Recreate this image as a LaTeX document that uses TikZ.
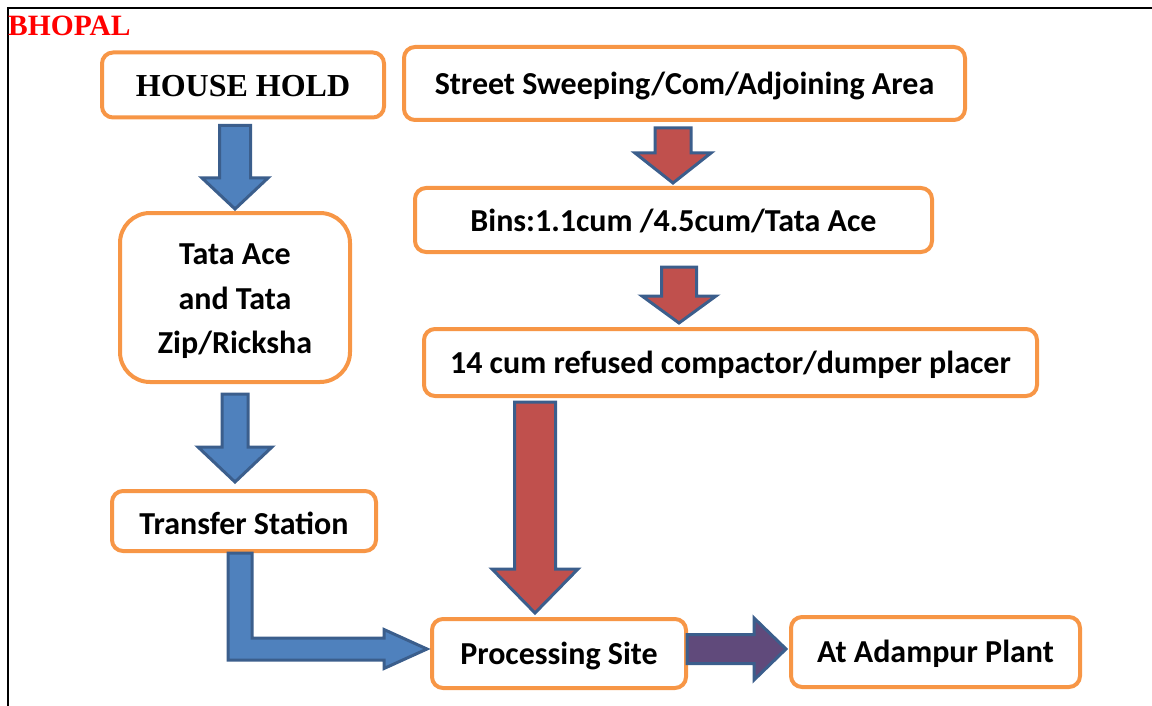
\documentclass[tikz,border=0pt]{standalone}
\usepackage{fontspec}
\setmainfont{Carlito}
\newfontfamily\timesf{Liberation Serif}
\usetikzlibrary{calc}
\definecolor{boxor}{HTML}{F79646}
\definecolor{arrline}{HTML}{3B5E8C}
\definecolor{bluefill}{HTML}{4F81BD}
\definecolor{redfill}{HTML}{C0504D}
\definecolor{purfill}{HTML}{604A7B}
\newcommand\bl[2][10.6pt]{\raisebox{-#1}[0pt][0pt]{#2}}
\newcommand\vblock[6]{%
  \draw[#6] let \p1=(#1), \p2=(#2) in
    (\x1-#3,\y1) -- (\x1+#3,\y1) -- (\x1+#3,\y2+#5) -- (\x1+#4,\y2+#5) -- (\x1,\y2)
    -- (\x1-#4,\y2+#5) -- (\x1-#3,\y2+#5) -- cycle;}
\newcommand\hblock[6]{%
  \draw[#6] let \p1=(#1), \p2=(#2) in
    (\x1,\y1+#3) -- (\x2-#5,\y1+#3) -- (\x2-#5,\y1+#4) -- (\x2,\y1)
    -- (\x2-#5,\y1-#4) -- (\x2-#5,\y1-#3) -- (\x1,\y1-#3) -- cycle;}
\tikzset{
  flowbox/.style={draw=boxor, line width=4pt, rounded corners=11pt, fill=white,
    font=\fontsize{32}{44.5}\selectfont\bfseries, align=center, inner sep=0pt},
  bluearr/.style={draw=arrline, line width=3pt, fill=bluefill, line join=miter},
  redarr/.style={draw=arrline, line width=3pt, fill=redfill, line join=miter},
  purarr/.style={draw=arrline, line width=3pt, fill=purfill, line join=miter},
}
\begin{document}
\begin{tikzpicture}[x=1pt,y=-1pt]
\useasboundingbox (0,0) rectangle (1152,706);
\draw[line width=2.5pt] (8,706) -- (8,8) -- (1152,8);
\node[anchor=base west, text=red, font=\timesf\fontsize{29.5}{31}\selectfont\bfseries, inner sep=0pt] (title) at (8,36) {BHOPAL};

\node[flowbox, minimum width=282pt, minimum height=65pt, font=\timesf\fontsize{32}{34}\selectfont\bfseries] (hh) at (243,85) {\bl[12pt]{HOUSE HOLD}};
\node[flowbox, minimum width=561pt, minimum height=73pt] (street) at (684.5,83.5) {\bl{Street Sweeping/Com/Adjoining Area}};
\node[flowbox, minimum width=230pt, minimum height=169pt, rounded corners=30pt] (tata) at (235,297.5) {\bl[56.2pt]{\begin{tabular}[b]{@{}c@{}}Tata Ace\\and Tata\\Zip/Ricksha\end{tabular}}};
\node[flowbox, minimum width=517pt, minimum height=64pt] (bins) at (673.5,220) {\bl[11.5pt]{Bins:1.1cum /4.5cum/Tata Ace}};
\node[flowbox, minimum width=613pt, minimum height=67pt] (comp) at (730.5,362.5) {\bl[11.2pt]{14 cum refused compactor/dumper placer}};
\node[flowbox, minimum width=264pt, minimum height=60pt] (transfer) at (244,521) {\bl[13pt]{Transfer Station}};
\node[flowbox, minimum width=254pt, minimum height=69pt] (proc) at (559,653.5) {\bl[11pt]{Processing Site}};
\node[flowbox, minimum width=289pt, minimum height=70pt] (plant) at (935.5,652) {\bl[10pt]{At Adampur Plant}};

\vblock{$(hh.south)+(-8,6)$}{$(tata.north)+(0,-2)$}{15.5pt}{33pt}{31pt}{bluearr}
\vblock{$(tata.south)+(0,10)$}{$(transfer.north)+(0,-7)$}{13pt}{37pt}{35pt}{bluearr}
\vblock{$(street.south)+(-11.5,6)$}{$(bins.north)+(0,-3)$}{18pt}{38pt}{30pt}{redarr}
\vblock{$(bins.south)+(5.5,13)$}{$(comp.north)+(0,-4)$}{17.5pt}{37pt}{27pt}{redarr}
\vblock{$(comp.south)+(-195.5,4)$}{$(proc.north)+(0,-4)$}{20.5pt}{43pt}{44pt}{redarr}
\draw[bluearr] let \p1=($(transfer.south)+(-4,0)$), \p2=($(proc.west)+(-3,-4.5)$) in
  (\x1-12pt,\y1) -- (\x1+12pt,\y1) -- (\x1+12pt,\y2+11pt) -- (\x2-43pt,\y2+11pt)
  -- (\x2-43pt,\y2+19.5pt) -- (\x2,\y2) -- (\x2-43pt,\y2-19.5pt) -- (\x2-43pt,\y2-11pt)
  -- (\x1-12pt,\y2-11pt) -- cycle;
\hblock{$(proc.east)+(-1,-4.5)$}{$(plant.west)+(-3,0)$}{14.5pt}{31pt}{32pt}{purarr}
\end{tikzpicture}
\end{document}
